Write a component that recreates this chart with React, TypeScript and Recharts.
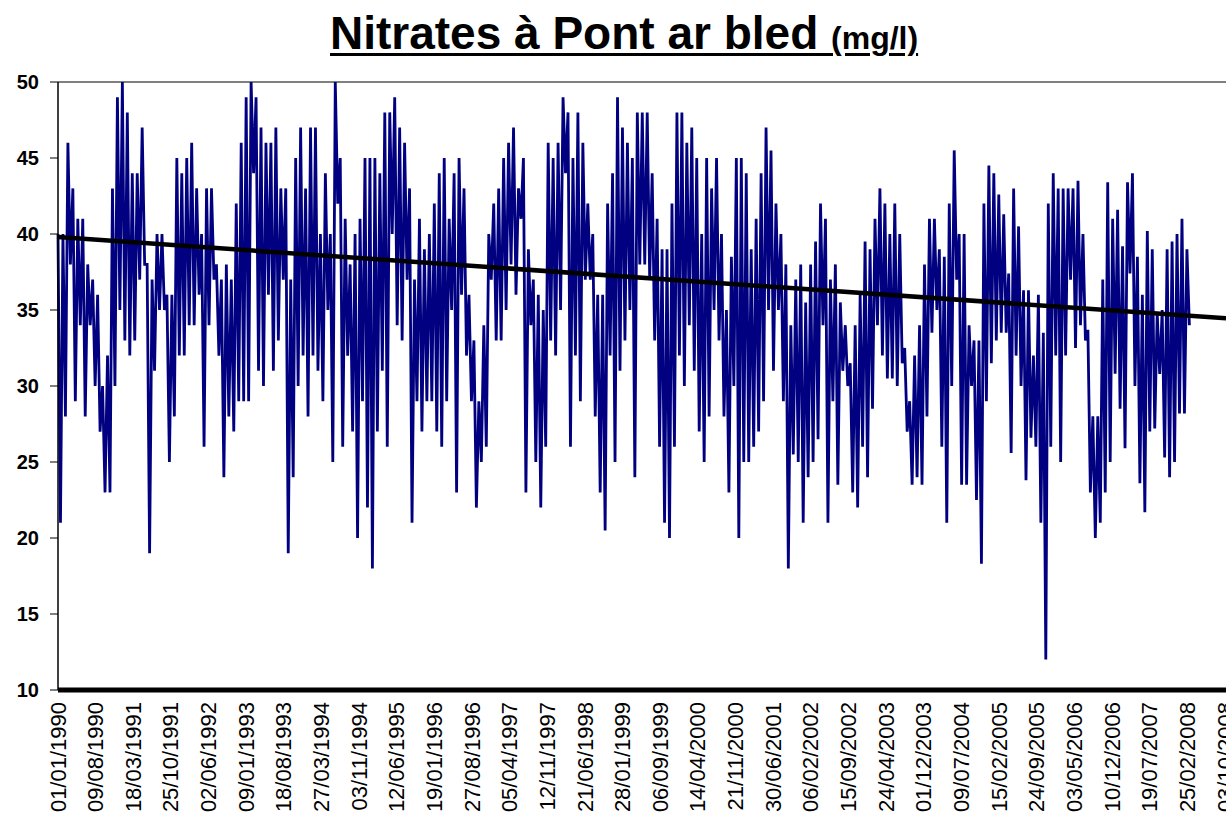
import React from "react";
import { ComposedChart, Line, XAxis, YAxis, ReferenceLine } from "recharts";

// dates shown under the axis (every 220 days)
const tickLabels = [
  "01/01/1990", "09/08/1990", "18/03/1991", "25/10/1991", "02/06/1992", "09/01/1993",
  "18/08/1993", "27/03/1994", "03/11/1994", "12/06/1995", "19/01/1996", "27/08/1996",
  "05/04/1997", "12/11/1997", "21/06/1998", "28/01/1999", "06/09/1999", "14/04/2000",
  "21/11/2000", "30/06/2001", "06/02/2002", "15/09/2002", "24/04/2003", "01/12/2003",
  "09/07/2004", "15/02/2005", "24/09/2005", "03/05/2006", "10/12/2006", "19/07/2007",
  "25/02/2008", "03/10/2008",
];
const yTicks = [10, 15, 20, 25, 30, 35, 40, 45, 50];

// nitrate readings (mg/l), one every ~14.5 days from 01/01/1990
const nitrates1990 = [40, 21, 40, 28, 46, 38, 43, 29, 41, 34, 41, 28, 38, 34, 37, 30, 36, 27, 30, 23, 32, 23, 43, 30, 49, 35, 50, 33, 48, 32, 44, 33, 44, 37, 47, 38, 38, 19, 37, 31, 40, 35];
const nitrates1991 = [40, 35, 36, 25, 36, 28, 45, 32, 44, 32, 45, 34, 46, 34, 43, 36, 40, 26, 43, 34, 43, 37, 38, 32, 37, 24, 38, 28, 37, 27, 42, 29, 46, 29, 49, 29, 50, 44, 49, 31, 47, 30];
const nitrates1993 = [46, 36, 46, 31, 47, 33, 43, 37, 43, 19, 37, 24, 45, 30, 47, 32, 43, 28, 47, 32, 47, 31, 40, 29, 44, 35, 40, 25, 50, 42, 45, 26, 41, 32, 38, 27, 40, 20, 41, 29, 45, 22];
const nitrates1995 = [45, 18, 45, 27, 44, 31, 48, 26, 48, 40, 49, 34, 47, 33, 46, 37, 43, 21, 37, 29, 41, 27, 39, 29, 40, 29, 42, 27, 44, 26, 45, 29, 41, 35, 44, 23, 45, 36, 43, 32, 36, 29];
const nitrates1996 = [33, 22, 29, 25, 34, 26, 40, 37, 42, 33, 43, 33, 45, 35, 46, 38, 47, 36, 43, 41, 45, 23, 39, 34, 37, 25, 36, 22, 35, 26, 46, 33, 45, 32, 46, 35, 49, 44, 48, 26, 45, 32];
const nitrates1998 = [48, 29, 46, 37, 42, 37, 40, 28, 36, 23, 36, 20.5, 42, 32, 44, 25, 49, 31, 47, 33, 46, 35, 45, 24, 48, 38, 48, 38, 48, 37, 44, 33, 41, 26, 39, 21, 39, 20, 42, 26, 48, 32];
const nitrates2000 = [48, 30, 46, 34, 47, 31, 45, 27, 40, 25, 45, 28, 43, 35, 45, 33, 40, 28, 35, 23, 38.5, 30, 45, 20, 45, 25, 44, 25, 39, 26, 41, 27, 44, 29, 47, 35, 45.5, 31, 42, 35, 40, 29];
const nitrates2001 = [38, 18, 34, 25.5, 37, 25, 38, 21, 35.5, 24, 38, 25, 39.5, 26.5, 42, 34, 41, 21, 37, 29, 38, 23.5, 35.5, 31, 34, 30, 31.5, 23, 34, 22, 36, 26, 39.5, 24, 39, 28.5, 41, 34, 43, 32, 42, 30.5];
const nitrates2003 = [40, 30.5, 42, 30, 40, 31.5, 32.5, 27, 29, 23.5, 32, 24, 34, 23.5, 38, 28, 41, 33.5, 41, 35, 39, 26, 38.5, 21, 42, 30, 45.5, 37, 40, 23.5, 40, 23.5, 34, 30, 33, 22.5, 33, 18.3, 42, 29, 44.5, 31.5];
const nitrates2005 = [44, 33, 42.6, 33.5, 41.3, 33.5, 37.4, 25.6, 43, 32, 40.5, 30, 36.3, 23.8, 36.3, 26.6, 32, 26, 36, 21, 33.5, 12, 42, 26, 44, 32, 43, 25, 43, 32, 43, 37, 43, 32.5, 43.5, 34, 40, 33, 33.7, 23, 28, 20];
const nitrates2006 = [28, 21, 37, 23, 43.4, 25, 41, 30.8, 41.6, 28.5, 39.2, 25.9, 43.4, 37.4, 44, 30, 38.5, 23.6, 36, 21.7, 40.2, 27, 39, 27.2, 34.8, 30.8, 35, 25.3, 39, 24, 39.5, 25, 40, 28.2, 41, 28.2, 39, 34];

// linear trend, start and end of the axis
const trendValues = [39.8, 34.45];

const STEP_DAYS = 14.53;
const X_END_DAYS = 6855;
const FONT = "'Liberation Sans', Arial, sans-serif";

const toDays = (s: string) => {
  const [d, m, y] = s.split("/").map(Number);
  return Math.round((Date.UTC(y, m - 1, d) - Date.UTC(1990, 0, 1)) / 86400000);
};

const tickDays = tickLabels.map(toDays);
const labelByDay = new Map(tickDays.map((d, i) => [d, tickLabels[i]]));

const values = [
  ...nitrates1990, ...nitrates1991, ...nitrates1993, ...nitrates1995, ...nitrates1996,
  ...nitrates1998, ...nitrates2000, ...nitrates2001, ...nitrates2003, ...nitrates2005,
  ...nitrates2006,
];
const data = values.map((v, i) => ({ day: i * STEP_DAYS, no3: v }));
const trend = [
  { day: 0, trend: trendValues[0] },
  { day: X_END_DAYS, trend: trendValues[1] },
];

const DateTick = ({ x, y, payload }: any) => {
  const ty = y + 12;
  return (
    <text
      x={x}
      y={ty}
      transform={`rotate(-90, ${x}, ${ty})`}
      textAnchor="end"
      dominantBaseline="central"
      fontSize={22}
      fontFamily={FONT}
      fill="#000"
    >
      {labelByDay.get(payload.value)}
    </text>
  );
};

export default function App() {
  return (
    <div style={{ position: "absolute", left: 0, top: 0, width: 1226, height: 814, overflow: "hidden", background: "#fff" }}>
      <div
        style={{
          position: "absolute",
          left: 330,
          top: 9,
          whiteSpace: "nowrap",
          fontFamily: FONT,
          fontWeight: "bold",
          color: "#000",
          lineHeight: "48px",
          textDecoration: "underline",
          textDecorationThickness: 3,
          textUnderlineOffset: 4,
        }}
      >
        <span style={{ fontSize: 46 }}>Nitrates à Pont ar bled </span>
        <span style={{ fontSize: 32 }}>(mg/l)</span>
      </div>
      <ComposedChart width={1226} height={814} margin={{ top: 82, right: 0, bottom: 0, left: 0 }}>
        <XAxis
          type="number"
          dataKey="day"
          domain={[0, X_END_DAYS]}
          ticks={tickDays}
          interval={0}
          height={124}
          tick={<DateTick />}
          tickLine={false}
          tickSize={0}
          tickMargin={0}
          axisLine={{ stroke: "#000", strokeWidth: 5 }}
          allowDuplicatedCategory={false}
        />
        <YAxis
          type="number"
          domain={[10, 50]}
          ticks={yTicks}
          interval={0}
          width={58}
          tickSize={8}
          tickMargin={11}
          tick={{ fontSize: 20, fontWeight: "bold", fill: "#000", fontFamily: FONT }}
          tickLine={{ stroke: "#000" }}
          axisLine={{ stroke: "#000", strokeWidth: 1.5 }}
          allowDataOverflow
        />
        <ReferenceLine y={50} stroke="#808080" strokeWidth={2} />
        <Line
          data={data}
          dataKey="no3"
          type="linear"
          stroke="#000080"
          strokeWidth={2.8}
          dot={false}
          isAnimationActive={false}
        />
        <Line
          data={trend}
          dataKey="trend"
          type="linear"
          stroke="#000"
          strokeWidth={4.5}
          dot={false}
          isAnimationActive={false}
        />
      </ComposedChart>
    </div>
  );
}
